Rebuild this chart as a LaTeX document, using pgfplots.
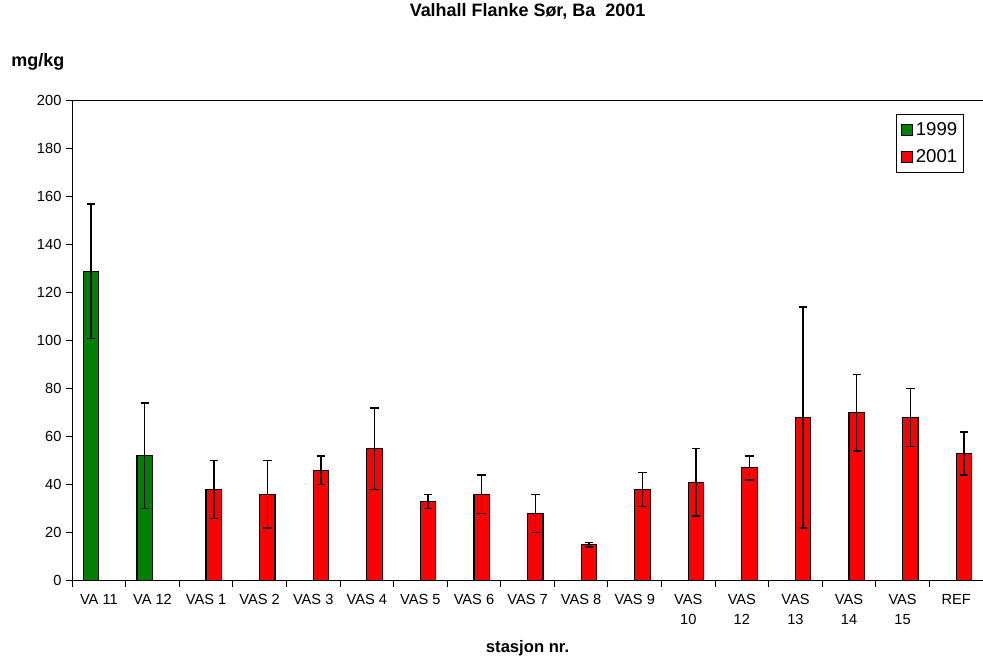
\documentclass[border=0pt]{standalone}
\usepackage{pgfplots}
\pgfplotsset{compat=1.18}
\usepackage{pgfplotstable}
\usepackage{fontspec}
\setmainfont{Liberation Sans}

\definecolor{xlgreen}{RGB}{0,128,0}
\definecolor{xlred}{RGB}{255,0,0}

% x = station index, y = mean, e = error
\pgfplotstableread{
x y e
0 129 28
1 52 22
}\dataA
\pgfplotstableread{
x y e
2 38 12
3 36 14
4 46 6
5 55 17
6 33 3
7 36 8
8 28 8
9 15 1
10 38 7
11 41 14
12 47 5
13 68 46
14 70 16
15 68 12
16 53 9
}\dataB

\begin{document}
\begin{tikzpicture}
\begin{axis}[
  scale only axis,
  width=684.75pt, height=360.75pt,
  ybar=0pt, bar width=11.6pt,
  xmin=-0.5, xmax=16.5,
  ymin=0, ymax=200,
  ytick={0,20,...,200},
  xtick={-0.5,0.5,...,16.5},
  x tick label as interval,
  xticklabels={VA 11,VA 12,VAS 1,VAS 2,VAS 3,VAS 4,VAS 5,VAS 6,VAS 7,VAS 8,VAS 9,{VAS\\10},{VAS\\12},{VAS\\13},{VAS\\14},{VAS\\15},REF},
  axis x line*=bottom, axis y line*=left,
  axis line style={line width=0.75pt},
  tick align=outside, major tick length=4.5pt,
  tick style={line width=0.75pt, black},
  /pgf/number format/assume math mode=true,
  tick label style={font=\fontsize{11}{15}\selectfont},
  xticklabel style={align=center, yshift=-2pt},
  title={Valhall Flanke Sør, Ba\ \ 2001},
  title style={font=\fontsize{13.5}{16}\selectfont\bfseries, at={(axis description cs:0.5,1)}, anchor=center, yshift=61.5pt},
  xlabel={stasjon nr.},
  xlabel style={font=\fontsize{12.5}{15}\selectfont\bfseries, at={(axis description cs:0.5,0)}, anchor=center, yshift=-51pt},
  legend style={at={(rel axis cs:1,1)}, anchor=north east, xshift=-14pt, yshift=-9.75pt,
    font=\fontsize{14}{17}\selectfont, draw=black, line width=0.75pt, inner xsep=3pt, inner ysep=4pt,
    row sep=5pt, legend cell align=left},
  legend image code/.code={\draw[#1, line width=0.75pt] (0pt,-4.25pt) rectangle (8.5pt,4.25pt);},
  error bars/y dir=both, error bars/y explicit,
  error bars/error bar style={line width=1.1pt, black, solid},
  error bars/error mark options={rotate=90, mark size=3.2pt, line width=1.1pt, black},
]
\addplot[fill=xlgreen, draw=black, line width=0.9pt] table[x=x, y=y, y error=e] {\dataA};
\addlegendentry{1999}
\addplot[fill=xlred, draw=black, line width=0.9pt] table[x=x, y=y, y error=e] {\dataB};
\addlegendentry{2001}
\draw[line width=0.75pt] (rel axis cs:0,1) -- (rel axis cs:1,1);
\end{axis}
\node[font=\fontsize{13.5}{16}\selectfont\bfseries] at ([xshift=-25.7pt, yshift=29.25pt]current axis.north west) {mg/kg};
\pgfresetboundingbox
\path ([xshift=-54.2pt, yshift=75.75pt]current axis.north west) rectangle ([yshift=-59.25pt]current axis.south east);
\end{tikzpicture}
\end{document}
